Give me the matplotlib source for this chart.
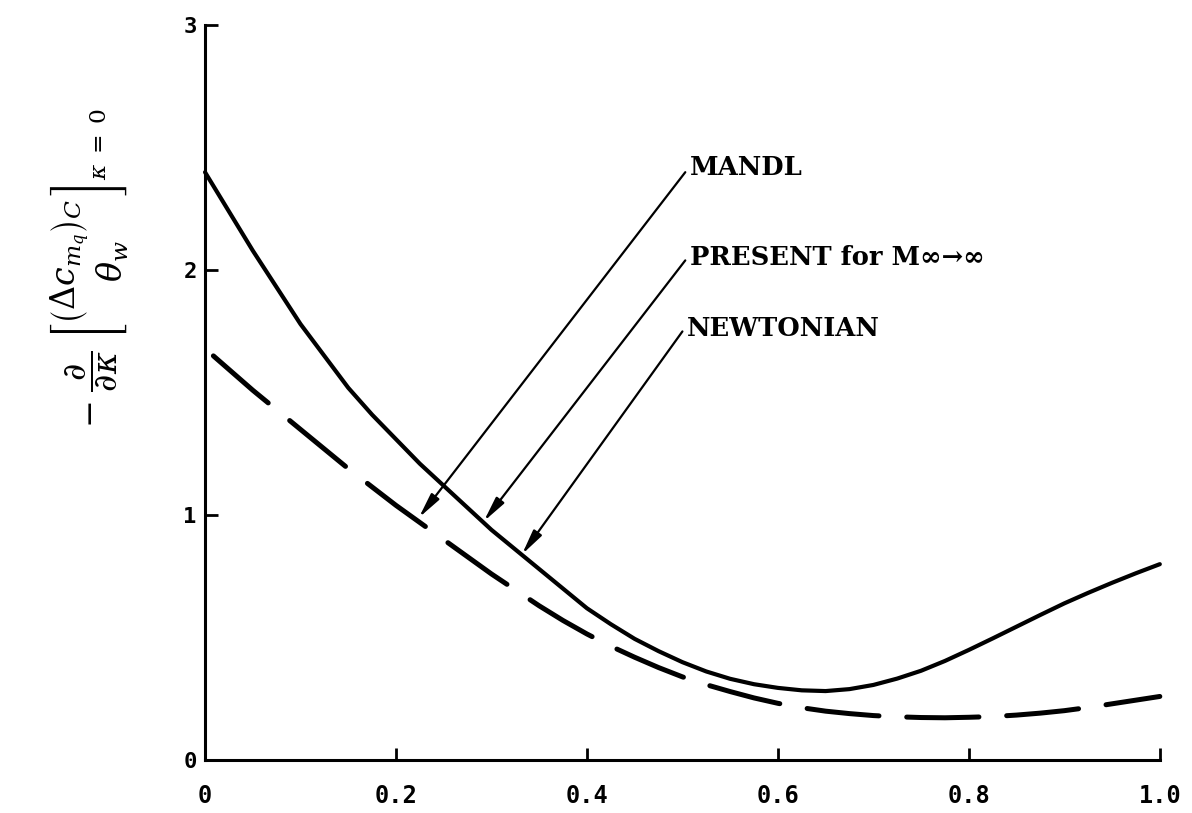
import matplotlib.pyplot as plt

plt.rcParams['mathtext.fontset'] = 'dejavuserif'
plt.rcParams['lines.scale_dashes'] = False

# curve readings (x = wall angle ratio)
x_vals = [0.000, 0.025, 0.050, 0.075, 0.100, 0.125, 0.150, 0.175, 0.200, 0.225,
          0.250, 0.275, 0.300, 0.325, 0.350, 0.375, 0.400, 0.425, 0.450, 0.475,
          0.500, 0.525, 0.550, 0.575, 0.600, 0.625, 0.650, 0.675, 0.700, 0.725,
          0.750, 0.775, 0.800, 0.825, 0.850, 0.875, 0.900, 0.925, 0.950, 0.975,
          1.000]
present = [2.40, 2.24, 2.08, 1.93, 1.78, 1.65, 1.52, 1.41, 1.31, 1.21,
           1.12, 1.03, 0.94, 0.86, 0.78, 0.70, 0.62, 0.555, 0.495, 0.445,
           0.40, 0.362, 0.332, 0.31, 0.295, 0.285, 0.282, 0.29, 0.307, 0.333,
           0.365, 0.405, 0.45, 0.497, 0.545, 0.593, 0.64, 0.683, 0.724, 0.763,
           0.80]
mandl = [1.68, 1.595, 1.51, 1.43, 1.35, 1.27, 1.19, 1.115, 1.04, 0.97,
         0.90, 0.83, 0.76, 0.695, 0.63, 0.57, 0.515, 0.465, 0.42, 0.378,
         0.34, 0.308, 0.28, 0.254, 0.232, 0.214, 0.20, 0.19, 0.182, 0.177,
         0.174, 0.173, 0.175, 0.178, 0.184, 0.192, 0.202, 0.215, 0.23, 0.245,
         0.26]

x_ticks = [0, 0.2, 0.4, 0.6, 0.8, 1.0]
x_ticklabels = ['0', '0.2', '0.4', '0.6', '0.8', '1.0']
y_ticks = [0, 1, 2, 3]
y_ticklabels = ['0', '1', '2', '3']

# label text, label anchor, arrow start, arrow tip
labels = ['MANDL', 'PRESENT for M\u221e\u2192\u221e', 'NEWTONIAN']
label_xy = [(0.508, 2.42), (0.508, 2.05), (0.505, 1.76)]
arrow_from = [(0.503, 2.40), (0.503, 2.04), (0.500, 1.75)]
arrow_to = [(0.224, 0.99), (0.292, 0.975), (0.332, 0.84)]

fig = plt.figure(figsize=(11.92, 8.13), dpi=100)
ax = fig.add_axes([0.172, 0.065, 0.801, 0.904])

ax.plot(x_vals, present, color='black', lw=3, solid_capstyle='round',
        solid_joinstyle='round', clip_on=False)
ax.plot(x_vals, mandl, color='black', lw=3.6, linestyle=(64, (52, 20)),
        dash_capstyle='round', clip_on=False)

for txt, pos, a0, a1 in zip(labels, label_xy, arrow_from, arrow_to):
    ax.text(pos[0], pos[1], txt, fontsize=18.5, fontweight='bold',
            family='DejaVu Serif', ha='left', va='center')
    ax.annotate('', xy=a1, xytext=a0,
                arrowprops=dict(arrowstyle='-|>,head_length=1.5,head_width=0.3',
                                color='black', lw=1.6, shrinkA=0, shrinkB=0))

ax.set_xlim(0, 1.0)
ax.set_ylim(0, 3)
ax.spines['top'].set_visible(False)
ax.spines['right'].set_visible(False)
ax.spines['left'].set_linewidth(2.2)
ax.spines['bottom'].set_linewidth(2.2)

ax.set_xticks(x_ticks)
ax.set_xticklabels(x_ticklabels)
ax.set_yticks(y_ticks)
ax.set_yticklabels(y_ticklabels)
ax.tick_params(direction='in', length=9, width=2)
ax.tick_params(axis='x', pad=17, labelsize=17)
ax.tick_params(axis='y', pad=6, labelsize=16)
for lab in ax.get_xticklabels() + ax.get_yticklabels():
    lab.set_fontweight('bold')
    lab.set_family('DejaVu Sans Mono')

fig.text(0.075, 0.67,
         r'$-\;\dfrac{\partial}{\partial\kappa}\;\left[\genfrac{}{}{0}{0}{\left(\Delta c_{m_q}\right)_C}{\theta_w}\right]_{\kappa\;=\;0}$',
         rotation=90, fontsize=24, ha='center', va='center')

fig.savefig('out.png', dpi=100)
